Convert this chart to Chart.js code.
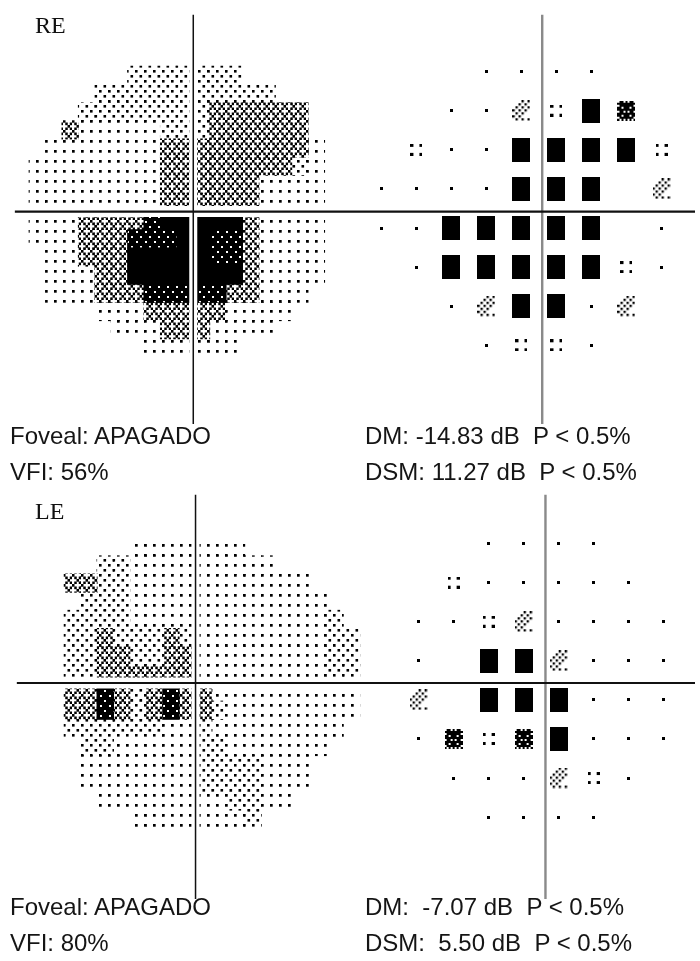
<!DOCTYPE html>
<html lang="es">
<head>
<meta charset="utf-8">
<title>Campo visual 24-2</title>
<script src="https://cdn.jsdelivr.net/npm/chart.js@4.4.1/dist/chart.umd.min.js"></script>
<style>
  html, body { margin: 0; padding: 0; background: #fff; }
  #sheet { position: relative; width: 700px; height: 961px; overflow: hidden; background: #fff; }
  canvas.map { position: absolute; left: 0; }
  .eye { position: absolute; left: 35px; font: 24px "Liberation Serif", "Times New Roman", serif; line-height: 24px; color: #111; }
  .stat { position: absolute; font: 24px "Liberation Sans", Arial, sans-serif; line-height: 24px; color: #151515; white-space: pre; }
</style>
</head>
<body>
<div id="sheet">
  <canvas id="re" class="map" width="700" height="432" style="top:0px"></canvas>
  <canvas id="le" class="map" width="700" height="422" style="top:484px"></canvas>
</div>
<script>
// Gray-scale map: one character per 3° cell, columns -30°..+30°, rows +24°..-24°.
// '.' = outside the tested field, 0..4 = light to dark.
const RE_GRAY = [
  "......1111111.......",
  "....11111111111.....",
  "...11111111222222...",
  "..200000111222222...",
  ".00000002222222220..",
  "000000002222222210..",
  "000000002222220000..",
  "000000002222220000..",
  "000222234444420000..",
  "000222333443320000..",
  ".00222444443320000..",
  ".00022444444420000..",
  ".0002223333322000...",
  "....000222220000....",
  ".....0002220000.....",
  ".......000000......."
];
const LE_GRAY = [
  "......0000000.......",
  "....11000000000.....",
  "..221100000000000...",
  "...111000000000000..",
  "..11110000000000001.",
  "..112111210000000011",
  "..112211220000000011",
  "..112222220000000011",
  "..223212322000000000",
  "..223212322100000000",
  "..11111100100000000.",
  "...110000011000000..",
  "...00000001111000...",
  "...00000001111000...",
  "....000000001100....",
  "......00000001......"
];

// Pattern deviation probability per 24-2 location, columns -27°..+27°, rows +21°..-21°.
// 0 = normal, 1 = P<5%, 2 = P<2%, 3 = P<1%, 4 = P<0.5%, '.' = not tested.
const RE_PD = [
  "...0000...",
  "..002143..",
  ".10044441.",
  "0000444.2.",
  "0044444.0.",
  ".04444410.",
  "..024402..",
  "...0110..."
];
const LE_PD = [
  "...0000...",
  "..100000..",
  ".00120000.",
  ".0.4420000",
  ".2.4440000",
  ".03134000.",
  "..000210..",
  "...0000..."
];

const RE_LINES = ["Foveal: APAGADO", "VFI: 56%", "DM: -14.83 dB  P < 0.5%", "DSM: 11.27 dB  P < 0.5%"];
const LE_LINES = ["Foveal: APAGADO", "VFI: 80%", "DM:  -7.07 dB  P < 0.5%", "DSM:  5.50 dB  P < 0.5%"];

const CELL = 3, GRID = 6;
const GRAY_X0 = -30, GRAY_Y0 = 24, PD_X0 = -27, PD_Y0 = 21;
const SX_G = 5.55, SY_G = 6.2;   // px per degree, gray-scale map
const SX_P = 5.92, SY_P = 6.67;  // px per degree, probability map

const LAYOUT = {
  re: { gray: [191, 211.5], pd: [541.7, 208.3], pdMeridian: 545, lineTop: 10, lineBottom: 429, lineLeft: 10,
        label: "RE", labelBase: 33, textBase: [444, 480] },
  le: { gray: [193.3, 198.7], pd: [543.9, 196], pdMeridian: 548.3, lineTop: 6, lineBottom: 420, lineLeft: 12,
        label: "LE", labelBase: 519, textBase: [915, 951] }
};

// ---- gray-scale fill patterns (9 x 10 px tiles) ----
const TILE_W = 9, TILE_H = 10;
function dot(t, x, y, w, h) { t.fillRect(x, y, w, h || w); }
// diagonal cross-hatch made of dots on a 4 x 4 lattice
const HATCH_CELLS = ["#...", ".#.#", "..#.", ".#.#"];
const TILE_DRAW = [
  t => dot(t, 0, 0, 2.7),
  t => { dot(t, 0, 0, 2.6); dot(t, 4.5, 5, 2.6); },
  t => HATCH_CELLS.forEach((r, j) => [...r].forEach((ch, i) => {
         if (ch === '#') dot(t, i * TILE_W / 4, j * TILE_H / 4, 2.5, 2.7);
       })),
  t => { t.fillRect(0, 0, TILE_W, TILE_H); t.clearRect(1, 1, 2, 2); t.clearRect(5, 6, 2, 2); },
  t => t.fillRect(0, 0, TILE_W, TILE_H)
];
function makeTile(draw) {
  const c = document.createElement('canvas');
  c.width = TILE_W; c.height = TILE_H;
  const t = c.getContext('2d');
  t.fillStyle = '#000';
  draw(t);
  return c;
}

// ---- probability symbols ----
function bitmap(rows, cell, size) {
  const c = document.createElement('canvas');
  c.width = rows[0].length * cell; c.height = rows.length * cell;
  const t = c.getContext('2d');
  t.fillStyle = '#000';
  rows.forEach((r, j) => [...r].forEach((ch, i) => { if (ch === '#') t.fillRect(i * cell, j * cell, size, size); }));
  return c;
}
function block(w, h) {
  const c = document.createElement('canvas');
  c.width = w; c.height = h;
  const t = c.getContext('2d');
  t.fillStyle = '#000';
  t.fillRect(0, 0, w, h);
  return c;
}
const SYMBOLS = [
  bitmap(["#"], 3, 3),
  bitmap(["#..#", "....", "....", "#..#"], 3, 3),
  bitmap(["...#.#", "..#.#.", ".#.#.#", "#.#.#.", ".#.#..", "#.#...", ".#.#.#"], 3, 2.3),
  bitmap([".##.#.##.", "#########", ".#######.", "##.###.##", "#########",
          ".##.#.##.", "#########", "##.###.##", ".#######.", "#.#.#.#.#"], 2, 2),
  block(18, 24)
];

function grayCells(rows, level) {
  const out = [];
  rows.forEach((row, j) => {
    const yc = GRAY_Y0 - CELL / 2 - CELL * j;
    [...row].forEach((ch, k) => {
      if (ch === String(level)) out.push({ x: GRAY_X0 + CELL / 2 + CELL * k, y: [yc - CELL / 2, yc + CELL / 2] });
    });
  });
  return out;
}
function pdPoints(rows, level) {
  const out = [];
  rows.forEach((row, j) => {
    [...row].forEach((ch, k) => {
      if (ch === String(level)) out.push({ x: PD_X0 + GRID * k, y: PD_Y0 - GRID * j });
    });
  });
  return out;
}
function line(xAxisID, yAxisID, data, color, width, order) {
  return { type: 'line', xAxisID, yAxisID, data, borderColor: color, borderWidth: width,
           pointRadius: 0, fill: false, tension: 0, order };
}

function buildEye(id, gray, pd, lines) {
  const L = LAYOUT[id];
  const canvas = document.getElementById(id);
  const ctx = canvas.getContext('2d');
  const W = canvas.width, H = canvas.height;
  const [gx, gy] = L.gray, [px, py] = L.pd;
  const patterns = TILE_DRAW.map(f => ctx.createPattern(makeTile(f), 'repeat'));

  const vTop = (gy - L.lineTop) / SY_G, vBottom = -(L.lineBottom - gy) / SY_G;
  const hLeft = (L.lineLeft - gx) / SX_G, hRight = (W - gx) / SX_G + 2;
  const pdX = (L.pdMeridian - px) / SX_P;

  const datasets = [
    line('xg', 'yg', [{ x: hLeft, y: 0 }, { x: hRight, y: 0 }], '#111', 2.2, 0),
    line('xg', 'yg', [{ x: 0, y: vTop }, { x: 0, y: vBottom }], '#111', 1.5, 0),
    line('xp', 'yg', [{ x: pdX, y: vTop }, { x: pdX, y: vBottom }], '#8a8a8a', 2.4, 0),
    line('xg', 'yg', [{ x: -31, y: 0 }, { x: 31, y: 0 }], '#fff', 11, 1),
    line('xg', 'yg', [{ x: 0, y: 25 }, { x: 0, y: -25 }], '#fff', 8, 1)
  ];
  SYMBOLS.forEach((sym, lvl) => datasets.push({
    type: 'scatter', xAxisID: 'xp', yAxisID: 'yp', data: pdPoints(pd, lvl),
    pointStyle: sym, pointRadius: 1, order: 2
  }));
  patterns.forEach((pat, lvl) => datasets.push({
    type: 'bar', xAxisID: 'xg', yAxisID: 'yg', data: grayCells(gray, lvl),
    backgroundColor: pat, borderWidth: 0, barPercentage: 1, categoryPercentage: 1,
    grouped: false, inflateAmount: 0.5, order: 3
  }));

  new Chart(canvas, {
    type: 'scatter',
    data: { datasets },
    options: {
      responsive: false, animation: false, events: [],
      layout: { padding: 0 },
      plugins: { legend: { display: false }, tooltip: { enabled: false } },
      scales: {
        xg: { type: 'linear', position: 'bottom', display: false, offset: false, min: -gx / SX_G, max: (W - gx) / SX_G },
        yg: { type: 'linear', position: 'left', display: false, offset: false, min: -(H - gy) / SY_G, max: gy / SY_G },
        xp: { type: 'linear', position: 'bottom', display: false, offset: false, min: -px / SX_P, max: (W - px) / SX_P },
        yp: { type: 'linear', position: 'left', display: false, offset: false, min: -(H - py) / SY_P, max: py / SY_P }
      }
    }
  });

  const sheet = document.getElementById('sheet');
  const put = (cls, text, left, base) => {
    const d = document.createElement('div');
    d.className = cls; d.textContent = text;
    d.style.left = left + 'px'; d.style.top = (base - 20.3) + 'px';
    sheet.appendChild(d);
  };
  put('eye', L.label, 35, L.labelBase);
  put('stat', lines[0], 10, L.textBase[0]);
  put('stat', lines[1], 10, L.textBase[1]);
  put('stat', lines[2], 365, L.textBase[0]);
  put('stat', lines[3], 365, L.textBase[1]);
}

buildEye('re', RE_GRAY, RE_PD, RE_LINES);
buildEye('le', LE_GRAY, LE_PD, LE_LINES);
</script>
</body>
</html>
